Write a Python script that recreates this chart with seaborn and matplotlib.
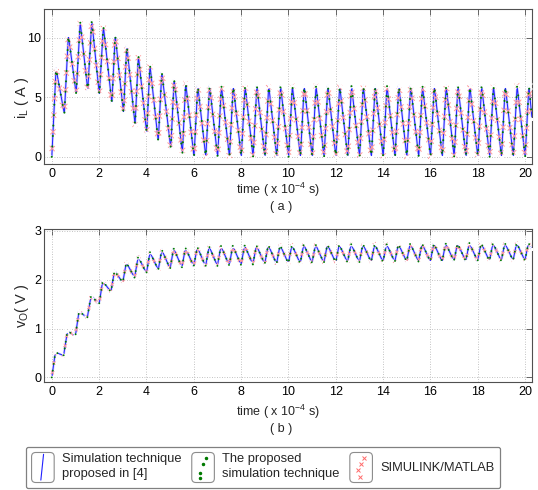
import numpy as np
import pandas as pd
import matplotlib
matplotlib.use("Agg")
import matplotlib.pyplot as plt
import seaborn as sns
from matplotlib import patheffects as pe
from matplotlib.lines import Line2D
from matplotlib.patches import FancyBboxPatch
from matplotlib.legend_handler import HandlerBase

# ---------------- data ----------------
# inductor current i_L (A): valleys and peaks of each switching cycle
iL_valley_t = [0.00, 0.53, 1.03, 1.52, 2.01, 2.54, 3.03, 3.52, 4.01, 4.50, 5.03, 5.52,
               6.01, 6.51, 7.01, 7.51, 8.01, 8.51, 9.01, 9.51, 10.01, 10.51, 11.01, 11.51,
               12.01, 12.51, 13.01, 13.51, 14.01, 14.51, 15.01, 15.51, 16.01, 16.51, 17.01,
               17.51, 18.01, 18.51, 19.01, 19.51, 20.01]
iL_valley = [0.0, 3.6, 5.3, 5.6, 5.2, 4.5, 3.7, 2.7, 2.0, 1.3, 0.7, 0.3,
             0.0, 0.0, 0.0, 0.0, 0.0, 0.0, 0.0, 0.0, 0.0, 0.0, 0.0, 0.0,
             0.0, 0.0, 0.0, 0.0, 0.0, 0.0, 0.0, 0.0, 0.0, 0.0, 0.0,
             0.0, 0.0, 0.0, 0.0, 0.0, 0.0]
iL_peak_t = [0.18, 0.70, 1.20, 1.69, 2.18, 2.68, 3.17, 3.66, 4.15, 4.65, 5.17, 5.66,
             6.17, 6.67, 7.17, 7.67, 8.17, 8.67, 9.17, 9.67, 10.17, 10.67, 11.17, 11.67,
             12.17, 12.67, 13.17, 13.67, 14.17, 14.67, 15.17, 15.67, 16.17, 16.67, 17.17,
             17.67, 18.17, 18.67, 19.17, 19.67, 20.17]
iL_peak = [7.4, 10.2, 11.3, 11.4, 10.95, 10.2, 9.3, 8.5, 7.7, 7.1, 6.5, 6.2,
           5.95, 5.95, 5.95, 5.95, 5.95, 5.95, 5.95, 5.95, 5.95, 5.95, 5.95, 5.95,
           5.95, 5.95, 5.95, 5.95, 5.95, 5.95, 5.95, 5.95, 5.95, 5.95, 5.95,
           5.95, 5.95, 5.95, 5.95, 5.95, 5.95]
iL_end_t, iL_end = 20.30, 3.2

# output voltage v_O (V)
vo_valley_t = [0.00, 0.50, 1.00, 1.50, 2.00, 2.50, 3.00, 3.50, 4.00, 4.50, 5.00, 5.50,
               6.00, 6.50, 7.00, 7.50, 8.00, 8.50, 9.00, 9.50, 10.00, 10.50, 11.00, 11.50,
               12.00, 12.50, 13.00, 13.50, 14.00, 14.50, 15.00, 15.50, 16.00, 16.50, 17.00,
               17.50, 18.00, 18.50, 19.00, 19.50, 20.00]
vo_valley = [0.00, 0.45, 0.86, 1.22, 1.50, 1.75, 1.94, 2.04, 2.13, 2.20, 2.22, 2.25,
             2.27, 2.27, 2.28, 2.29, 2.30, 2.31, 2.32, 2.32, 2.33, 2.33, 2.34, 2.34,
             2.35, 2.35, 2.35, 2.36, 2.36, 2.36, 2.37, 2.37, 2.37, 2.37, 2.38,
             2.38, 2.38, 2.38, 2.38, 2.39, 2.39]
vo_peak_t = [0.15, 0.66, 1.15, 1.66, 2.15, 2.65, 3.15, 3.65, 4.15, 4.65, 5.15, 5.65,
             6.15, 6.65, 7.15, 7.65, 8.15, 8.65, 9.15, 9.65, 10.15, 10.65, 11.15, 11.65,
             12.15, 12.65, 13.15, 13.65, 14.15, 14.65, 15.15, 15.65, 16.15, 16.65, 17.15,
             17.65, 18.15, 18.65, 19.15, 19.65, 20.15]
vo_peak = [0.51, 0.94, 1.35, 1.67, 1.97, 2.18, 2.35, 2.47, 2.56, 2.61, 2.64, 2.65,
           2.67, 2.68, 2.69, 2.69, 2.70, 2.70, 2.71, 2.71, 2.71, 2.72, 2.72, 2.72,
           2.72, 2.73, 2.73, 2.73, 2.73, 2.73, 2.74, 2.74, 2.74, 2.74, 2.74,
           2.75, 2.75, 2.75, 2.75, 2.75, 2.75]
vo_end_t, vo_end = 20.30, 2.62

x_ticks = [0, 2, 4, 6, 8, 10, 12, 14, 16, 18, 20]
iL_ticks = [0, 5, 10]
vo_ticks = [0, 1, 2, 3]
legend_labels = ["Simulation technique\nproposed in [4]",
                 "The proposed\nsimulation technique",
                 "SIMULINK/MATLAB"]


def build(vt, vv, pt, pv, et, ev):
    t = np.column_stack([vt, pt]).ravel().tolist() + [et]
    y = np.column_stack([vv, pv]).ravel().tolist() + [ev]
    return pd.DataFrame({"t": t, "y": y})


df_iL = build(iL_valley_t, iL_valley, iL_peak_t, iL_peak, iL_end_t, iL_end)
df_vo = build(vo_valley_t, vo_valley, vo_peak_t, vo_peak, vo_end_t, vo_end)

# ---------------- style ----------------
sns.set_style("white")
plt.rcParams["font.family"] = ["Liberation Sans", "DejaVu Sans"]
plt.rcParams["mathtext.fontset"] = "custom"
plt.rcParams["mathtext.rm"] = "Liberation Sans"
plt.rcParams["mathtext.it"] = "Liberation Sans"
FS = 9
SPINE = "#505050"

fig = plt.figure(figsize=(5.38, 4.90), dpi=100)
ax1 = fig.add_axes([44 / 538, 1 - 164 / 490, 488 / 538, 155 / 490])
ax2 = fig.add_axes([44 / 538, 1 - 382.3 / 490, 488 / 538, 153.3 / 490])


def draw(ax, df, red_spacing, green_gap, green_lw):
    # blue: simulation technique proposed in [4]
    sns.lineplot(data=df, x="t", y="y", ax=ax, sort=False, estimator=None,
                 color="#2020ff", lw=0.7, zorder=3,
                 path_effects=[pe.Stroke(linewidth=1.7, foreground="#ccccff"), pe.Normal()])
    # red: SIMULINK/MATLAB (x marks along the waveform)
    ticks = [pe.TickedStroke(spacing=red_spacing, angle=a, length=0.2)
             for a in (45, 135, 225, 315)]
    sns.lineplot(data=df, x="t", y="y", ax=ax, sort=False, estimator=None,
                 color="#ff9a9a", lw=0.7, zorder=4, path_effects=ticks)
    sns.lineplot(data=df, x="t", y="y", ax=ax, sort=False, estimator=None,
                 color="#ff2020", lw=0, linestyle="none", marker="x",
                 markersize=3.8, markeredgewidth=1.0, zorder=4)
    # green: the proposed simulation technique (dots)
    sns.lineplot(data=df, x="t", y="y", ax=ax, sort=False, estimator=None,
                 color="#007a00", lw=green_lw, linestyle=(0, (0.01, green_gap)),
                 dash_capstyle="round", zorder=5)


draw(ax1, df_iL, 12.0, 5.0, 1.5)
draw(ax2, df_vo, 7.0, 3.5, 1.4)

for ax, yl, yt in ((ax1, (-0.6, 12.4), iL_ticks), (ax2, (-0.1, 3.035), vo_ticks)):
    ax.set_xlim(-0.33, 20.3)
    ax.set_ylim(*yl)
    ax.set_xticks(x_ticks)
    ax.set_yticks(yt)
    ax.grid(True, color="#b0b0b0", lw=0.6, linestyle=(0, (1, 2)))
    ax.tick_params(direction="in", length=4, width=0.6, top=True, right=True,
                   colors="black", labelsize=FS, pad=3, color=SPINE)
    ax.tick_params(axis="y", pad=2)
    for s in ax.spines.values():
        s.set_color(SPINE)
        s.set_linewidth(0.8)
    ax.set_facecolor("white")

ax1.set_xlabel(r"time ( x $\mathregular{10^{-4}}$ s)", fontsize=FS)
ax2.set_xlabel(r"time ( x $\mathregular{10^{-4}}$ s)", fontsize=FS)
ax1.set_ylabel(r"$\mathregular{i_L}$ ( A )", fontsize=FS + 1.5)
ax2.set_ylabel(r"$\mathregular{v_O}$( V )", fontsize=FS + 1.5)
ax1.xaxis.set_label_coords((278 - 44) / 488, (164 - 181) / 155)
ax2.xaxis.set_label_coords((278 - 44) / 488, (382.3 - 403) / 153.3)
ax1.yaxis.set_label_coords((31 - 44) / 488, (164 - 98) / 155)
ax2.yaxis.set_label_coords((31 - 44) / 488, (382.3 - 306) / 153.3)

fig.text(281 / 538, 1 - 207 / 490, "( a )", ha="center", va="center", fontsize=FS)
fig.text(281 / 538, 1 - 429 / 490, "( b )", ha="center", va="center", fontsize=FS)


# ---------------- legend ----------------
class BoxHandler(HandlerBase):
    def __init__(self, kind):
        super().__init__()
        self.kind = kind

    def create_artists(self, legend, orig_handle, xdescent, ydescent, width,
                       height, fontsize, trans):
        x0, y0 = -xdescent, -ydescent
        arts = [FancyBboxPatch((x0, y0), width, height,
                               boxstyle="round,pad=0,rounding_size=3",
                               fc="white", ec="#8c8c8c", lw=0.8, transform=trans)]

        def fx(f):
            return x0 + f * width

        def fy(f):
            return y0 + f * height

        if self.kind == "blue":
            arts.append(Line2D([fx(0.53), fx(0.41)], [fy(0.94), fy(0.08)],
                               color="#2020ff", lw=0.8, transform=trans))
        elif self.kind == "green":
            pts = [(0.62, 0.83), (0.48, 0.61), (0.35, 0.33), (0.38, 0.14)]
            arts.append(Line2D([fx(p[0]) for p in pts], [fy(p[1]) for p in pts],
                               ls="none", marker="o", ms=1.5, color="#007a00",
                               transform=trans))
        else:
            pts = [(0.63, 0.83), (0.49, 0.63), (0.34, 0.42), (0.43, 0.19)]
            arts.append(Line2D([fx(p[0]) for p in pts], [fy(p[1]) for p in pts],
                               ls="none", marker="x", ms=3.0, mew=0.7,
                               color="#ff6a6a", transform=trans))
        return arts


h_blue = Line2D([], [], color="#2020ff")
h_green = Line2D([], [], color="#007a00")
h_red = Line2D([], [], color="#ff2020")
leg = fig.legend([h_blue, h_green, h_red], legend_labels, ncol=3,
                 loc="center", bbox_to_anchor=(263 / 538, 1 - 467.5 / 490),
                 fontsize=FS + 0.3, handlelength=1.75, handleheight=3.2,
                 handletextpad=0.6, columnspacing=0.8, borderpad=0.45,
                 fancybox=True, framealpha=1, edgecolor="#808080",
                 handler_map={h_blue: BoxHandler("blue"),
                              h_green: BoxHandler("green"),
                              h_red: BoxHandler("red")})
leg.get_frame().set_linewidth(0.9)
for txt in leg.get_texts():
    txt.set_linespacing(1.3)

fig.savefig("out.png", dpi=100, facecolor="white")
